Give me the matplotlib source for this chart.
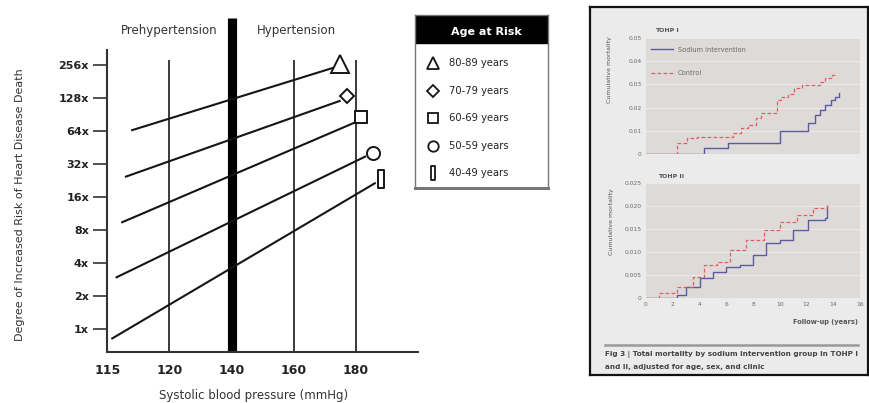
import numpy as np
import matplotlib
matplotlib.use("Agg")
import matplotlib.pyplot as plt
from matplotlib import font_manager
from matplotlib.path import Path
from matplotlib.transforms import blended_transform_factory

# pick a narrow face if the box has one, the original uses a condensed sans
installed = {f.name for f in font_manager.fontManager.ttflist}
narrow = "Liberation Sans Narrow" if "Liberation Sans Narrow" in installed else "DejaVu Sans"

# ---------------- left chart data ----------------
sbp_ticks = [115, 120, 140, 160, 180]
risk_ticks = [1, 2, 4, 8, 16, 32, 64, 128, 256]
risk_labels = ["1x", "2x", "4x", "8x", "16x", "32x", "64x", "128x", "256x"]
grid_sbp = [120, 160, 180]
cutoff_sbp = 140
age_groups = ["80-89 years", "70-79 years", "60-69 years", "50-59 years", "40-49 years"]
sbp_start = [117.0, 116.5, 116.2, 115.75, 115.4]
sbp_end = [172.6, 174.8, 180.0, 183.0, 186.1]
risk_start = [65, 24.5, 9.4, 2.96, 0.82]
risk_end = [240, 120, 77, 37.3, 21.3]
marker_sbp = [175.0, 177.0, 181.5, 185.4, 188.0]
marker_risk = [262, 134, 86, 40.6, 23.2]

# ---------------- inset figure data (TOHP) ----------------
tohp1_t_ctrl = [0, 2.3, 3.1, 3.8, 6.5, 7.1, 7.6, 8.2, 8.6, 9.8, 10.1, 10.6, 11.1, 11.7, 13.0, 13.4, 13.9, 14.1]
tohp1_ctrl = [0, 0.0046, 0.0069, 0.0075, 0.009, 0.011, 0.0125, 0.0155, 0.0177, 0.0233, 0.0247, 0.026,
              0.0284, 0.0297, 0.031, 0.0326, 0.034, 0.0345]
tohp1_t_sod = [0, 4.3, 6.1, 10.0, 12.1, 12.6, 13.0, 13.4, 13.8, 14.1, 14.4]
tohp1_sod = [0, 0.0025, 0.0049, 0.010, 0.0132, 0.0168, 0.019, 0.0211, 0.0233, 0.0247, 0.0264]
tohp2_t_ctrl = [0, 1.0, 2.3, 3.5, 4.3, 5.3, 6.3, 7.5, 8.8, 10.0, 11.3, 12.5, 13.5]
tohp2_ctrl = [0, 0.001, 0.0025, 0.0046, 0.0072, 0.0079, 0.0104, 0.0126, 0.0148, 0.0166, 0.018, 0.0195, 0.0207]
tohp2_t_sod = [0, 1.5, 2.3, 3.0, 4.0, 5.0, 6.0, 7.0, 8.0, 9.0, 10.0, 11.0, 12.1, 13.4, 13.5]
tohp2_sod = [0, 0, 0.0007, 0.0025, 0.0043, 0.0057, 0.0068, 0.0072, 0.0093, 0.0119, 0.0126, 0.0148,
             0.017, 0.0173, 0.0199]
tohp1_yticks = [0, 0.01, 0.02, 0.03, 0.04, 0.05]
tohp1_ylabels = ["0", "0.01", "0.02", "0.03", "0.04", "0.05"]
tohp2_yticks = [0, 0.005, 0.010, 0.015, 0.020, 0.025]
tohp2_ylabels = ["0", "0.005", "0.010", "0.015", "0.020", "0.025"]
year_ticks = [0, 2, 4, 6, 8, 10, 12, 14, 16]

W, H = 869, 403


def box(x0, y0, x1, y1):
    # pixel box (top-left origin) -> figure fraction rect
    return [x0 / W, 1 - y1 / H, (x1 - x0) / W, (y1 - y0) / H]


# the x axis is not linear: 115, 120, 140, 160, 180 sit at equal steps
knots_sbp = [95, 115, 120, 140, 160, 180, 200, 220]
knots_pos = [-1, 0, 1, 2, 3, 4, 5, 6]


def fwd(x):
    return np.interp(x, knots_sbp, knots_pos)


def inv(p):
    return np.interp(p, knots_pos, knots_sbp)


bar = Path([(-0.18, -0.5), (0.18, -0.5), (0.18, 0.5), (-0.18, 0.5), (-0.18, -0.5)],
           [Path.MOVETO, Path.LINETO, Path.LINETO, Path.LINETO, Path.CLOSEPOLY])
shapes = ["^", "D", "s", "o", bar]
big_sizes = [12.5, 6.8, 9.0, 9.4, 13.0]
small_sizes = [8.5, 6.0, 7.5, 7.5, 9.5]

fig = plt.figure(figsize=(W / 100, H / 100), dpi=100)

# ---------------- main chart ----------------
ax = fig.add_axes(box(107, 50, 418, 352))
ax.set_xscale("function", functions=(fwd, inv))
ax.set_yscale("log", base=2)
ax.set_xlim(114.92, 200)
ax.set_ylim(2 ** -0.697, 2 ** 8.45)

ax.vlines(grid_sbp, 2 ** -0.697, 2 ** 8.15, color="#3a3a3a", lw=1.4, zorder=1)
ax.vlines(cutoff_sbp, 2 ** -0.697, 2 ** 9.42, color="black", lw=6.6, zorder=2, clip_on=False)

for i in range(len(age_groups)):
    ax.plot([sbp_start[i], sbp_end[i]], [risk_start[i], risk_end[i]], color="#151515", lw=1.5, zorder=3)
    ax.plot(marker_sbp[i], marker_risk[i], marker=shapes[i], ms=big_sizes[i], mfc="white",
            mec="#151515", mew=1.4, ls="none", zorder=4, clip_on=False)

for side in ["top", "right"]:
    ax.spines[side].set_visible(False)
for side in ["left", "bottom"]:
    ax.spines[side].set_color("#333333")
    ax.spines[side].set_linewidth(1.5)

ax.set_yticks(risk_ticks)
ax.set_yticklabels(risk_labels)
ax.yaxis.set_minor_locator(matplotlib.ticker.NullLocator())
ax.set_xticks(sbp_ticks)
ax.set_xticklabels([str(v) for v in sbp_ticks])
ax.xaxis.set_minor_locator(matplotlib.ticker.NullLocator())
ax.tick_params(axis="y", length=10, width=1.2, color="#333333", pad=3)
ax.tick_params(axis="x", length=0, pad=9)
for lab in ax.get_yticklabels():
    lab.set_fontfamily([narrow, "DejaVu Sans"])
    lab.set_fontweight("bold")
    lab.set_fontsize(8)
    lab.set_color("#222222")
for lab in ax.get_xticklabels():
    lab.set_fontfamily([narrow, "DejaVu Sans"])
    lab.set_fontweight("bold")
    lab.set_fontsize(9)
    lab.set_color("#222222")

tr = blended_transform_factory(ax.transData, ax.transAxes)
ax.text(120, 1.063, "Prehypertension", transform=tr, ha="center", va="center",
        fontsize=8.5, color="#333333", family=[narrow, "DejaVu Sans"])
ax.text(161, 1.063, "Hypertension", transform=tr, ha="center", va="center",
        fontsize=8.5, color="#333333", family=[narrow, "DejaVu Sans"])

fig.text(20 / W, 1 - 205 / H, "Degree of Increased Risk of Heart Disease Death", rotation=90,
         ha="center", va="center", fontsize=8, color="#333333", family=[narrow, "DejaVu Sans"])
fig.text(254 / W, 1 - 396 / H, "Systolic blood pressure (mmHg)", ha="center", va="center",
         fontsize=8.5, color="#333333", family=[narrow, "DejaVu Sans"])

# ---------------- legend box ----------------
lg = fig.add_axes(box(415, 15, 548, 188))
lg.set_xlim(0, 1)
lg.set_ylim(0, 1)
lg.set_xticks([])
lg.set_yticks([])
for s in lg.spines.values():
    s.set_color("#777777")
    s.set_linewidth(1.0)
lg.spines["bottom"].set_linewidth(2.2)
lg.axhspan(0.836, 1.0, color="black")
lg.text(0.54, 0.90, "Age at Risk", ha="center", va="center", color="white",
        fontsize=8, fontweight="bold", family=[narrow, "DejaVu Sans"])
rows = np.linspace(0.721, 0.085, len(age_groups))
for i, name in enumerate(age_groups):
    lg.plot(0.133, rows[i], marker=shapes[i], ms=small_sizes[i], mfc="white", mec="#151515",
            mew=1.3, ls="none")
    lg.text(0.258, rows[i], name, ha="left", va="center", fontsize=7.2, color="#222222",
            family=[narrow, "DejaVu Sans"])

# ---------------- inset: TOHP figure ----------------
frame = fig.add_axes(box(590, 7, 868, 375))
frame.set_facecolor("#ebebeb")
frame.set_xticks([])
frame.set_yticks([])
frame.set_xlim(0, 1)
frame.set_ylim(0, 1)
for s in frame.spines.values():
    s.set_color("#111111")
    s.set_linewidth(1.6)

blue = "#5b5ba3"
red = "#e05d68"
grey_txt = "#6a6a6a"

p1 = fig.add_axes(box(646, 38, 860, 154))
p2 = fig.add_axes(box(646, 183, 860, 298))
for p, yt, yl in [(p1, tohp1_yticks, tohp1_ylabels), (p2, tohp2_yticks, tohp2_ylabels)]:
    p.set_facecolor("#dedad8")
    for s in p.spines.values():
        s.set_visible(False)
    p.set_xlim(0, 16)
    p.set_ylim(yt[0], yt[-1])
    p.set_yticks(yt)
    p.set_yticklabels(yl, fontsize=4.3, color=grey_txt)
    p.set_xticks(year_ticks)
    p.tick_params(length=0, pad=3)
    p.grid(axis="y", color="white", lw=0.6, alpha=0.5)
    p.set_axisbelow(True)
p1.set_xticklabels([])
p2.set_xticklabels([str(v) for v in year_ticks], fontsize=4.3, color=grey_txt)

p1.step(tohp1_t_sod, tohp1_sod, where="post", color=blue, lw=1.0)
p1.step(tohp1_t_ctrl, tohp1_ctrl, where="post", color=red, lw=0.9, ls=(0, (3, 1.8)))
p2.step(tohp2_t_sod, tohp2_sod, where="post", color=blue, lw=1.0)
p2.step(tohp2_t_ctrl, tohp2_ctrl, where="post", color=red, lw=0.9, ls=(0, (3, 1.8)))

p1.legend(handles=[matplotlib.lines.Line2D([], [], color=blue, lw=1.0),
                   matplotlib.lines.Line2D([], [], color=red, lw=0.9, ls=(0, (3, 1.8)))],
          labels=["Sodium intervention", "Control"], loc="upper left", frameon=False,
          fontsize=4.8, labelcolor=grey_txt, handlelength=3.2, labelspacing=2.6,
          borderaxespad=0.4, bbox_to_anchor=(0.0, 0.97))

fig.text(655 / W, 1 - 31 / H, "TOHP I", fontsize=4.5, fontweight="bold", color="#555555",
         ha="left", va="center")
fig.text(658 / W, 1 - 176 / H, "TOHP II", fontsize=4.5, fontweight="bold", color="#555555",
         ha="left", va="center")
fig.text(610 / W, 1 - 70 / H, "Cumulative mortality", rotation=90, fontsize=4.5,
         color="#555555", ha="center", va="center")
fig.text(612 / W, 1 - 222 / H, "Cumulative mortality", rotation=90, fontsize=4.5,
         color="#555555", ha="center", va="center")
fig.text(858 / W, 1 - 322 / H, "Follow-up (years)", fontsize=4.8, fontweight="bold",
         color="#555555", ha="right", va="center")

frame.plot([(605 - 590) / 278, (858 - 590) / 278], [1 - (345 - 7) / 368] * 2, color="#999999", lw=1.8)
fig.text(605 / W, 1 - 355 / H, "Fig 3 | Total mortality by sodium intervention group in TOHP I",
         fontsize=5.2, fontweight="bold", color="#444444", ha="left", va="center")
fig.text(605 / W, 1 - 367 / H, "and II, adjusted for age, sex, and clinic",
         fontsize=5.2, fontweight="bold", color="#444444", ha="left", va="center")

fig.savefig("out.png", dpi=100)
